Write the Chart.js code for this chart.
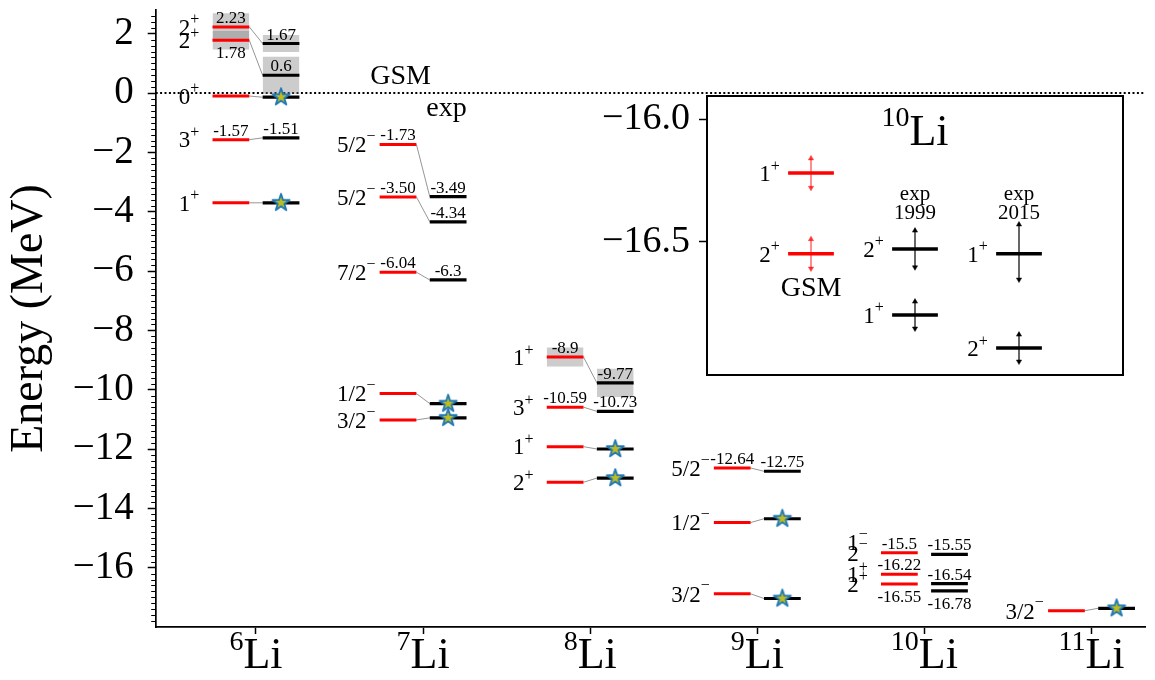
<!DOCTYPE html>
<html><head><meta charset="utf-8">
<script src="https://cdn.jsdelivr.net/npm/chart.js@4.4.1/dist/chart.umd.min.js"></script>
<style>
html,body{margin:0;padding:0;background:#fff;}
#wrap{position:relative;width:1155px;height:680px;overflow:hidden;}
#main{position:absolute;left:0;top:0;}
#inset{position:absolute;left:580px;top:88px;}
</style></head><body>
<div id="wrap"><canvas id="main" width="1155" height="680"></canvas><canvas id="inset" width="560" height="300"></canvas></div>
<script>
const FONT = '"Liberation Serif", "Times New Roman", serif';

// ---------- data ----------
const nuclei = ['6','7','8','9','10','11'];
const nucleusSymbol = 'Li';
const yTickValues = [2,0,-2,-4,-6,-8,-10,-12,-14,-16];
const yTickLabels = ['2','0','\u22122','\u22124','\u22126','\u22128','\u221210','\u221212','\u221214','\u221216'];

const levelNucleus = [0,0,0,0,0, 1,1,1,1,1, 2,2,2,2, 3,3,3, 4,4,4, 5];
const spinLabel    = ['2+','2+','0+','3+','1+', '5/2\u2212','5/2\u2212','7/2\u2212','1/2\u2212','3/2\u2212', '1+','3+','1+','2+', '5/2\u2212','1/2\u2212','3/2\u2212', '2\u2212','1+','2+', '3/2\u2212'];
const gsmEnergy    = [2.23,1.78,-0.10,-1.57,-3.70, -1.73,-3.50,-6.04,-10.13,-11.02, -8.9,-10.59,-11.92,-13.12, -12.64,-14.48,-16.88, -15.5,-16.22,-16.55, -17.45];
const gsmHalfWidth = [0.46,0.31,0,0,0, 0,0,0,0,0, 0.32,0,0,0, 0,0,0, 0,0,0, 0];
const gsmValueText = ['2.23','1.78','','-1.57','', '-1.73','-3.50','-6.04','','', '-8.9','-10.59','','', '-12.64','','', '-15.5','-16.22','-16.55', ''];
const gsmValueBelow= [0,1,0,0,0, 0,0,0,0,0, 0,0,0,0, 0,0,0, 0,0,1, 0];
const expEnergy    = [1.67,0.6,-0.14,-1.51,-3.70, -3.49,-4.34,-6.3,-10.47,-10.95, -9.77,-10.73,-12.0,-12.98, -12.75,-14.35,-17.04, -15.55,-16.54,-16.78, -17.37];
const expHalfWidth = [0.29,0.62,0,0,0, 0,0,0,0,0, 0.48,0,0,0, 0,0,0, 0,0,0, 0];
const expValueText = ['1.67','0.6','','-1.51','', '-3.49','-4.34','-6.3','','', '-9.77','-10.73','','', '-12.75','','', '-15.55','-16.54','-16.78', ''];
const expValueBelow= [0,0,0,0,0, 0,0,0,0,0, 0,0,0,0, 0,0,0, 0,0,1, 0];
const expStar      = [0,0,1,0,1, 0,0,0,1,1, 0,0,1,1, 0,1,1, 0,0,0, 1];
const linked       = [1,1,1,1,1, 1,1,1,1,1, 1,1,1,1, 1,1,1, 0,0,0, 1];
const extraSpinNucleus = [4];
const extraSpinEnergy  = [-15.13];
const extraSpinText    = ['1\u2212'];
const methodText = ['GSM','exp'];
const methodX    = [0.865, 1.14];
const methodY    = [0.56, -0.51];

// inset (10Li)
const insetGroupX     = [1,2,3];
const insetGroupLine1 = ['','exp','exp'];
const insetGroupLine2 = ['','1999','2015'];
const insetLevelGroup = [0,0,1,1,2,2];
const insetEnergy     = [-16.22,-16.55,-16.53,-16.80,-16.55,-16.935];
const insetErrUp      = [0.06,0.06,0.075,0.055,0.12,0.055];
const insetErrDown    = [0.06,0.06,0.075,0.055,0.105,0.055];
const insetSpin       = ['1+','2+','2+','1+','1+','2+'];
const insetYTickValues = [-16.5,-16.0];
const insetYTickLabels = ['\u221216.5','\u221216.0'];
const insetTitleSup = '10', insetTitleMain = 'Li';

// ---------- geometry (styles) ----------
const XMIN=-0.6, XMAX=5.32, YMIN=-18, YMAX=2.8;
const RED_L=-0.26, RED_R=-0.04, EXP_L=0.04, EXP_R=0.26, STAR_DX=0.15, SPIN_DX=-0.40;

function makeStar(){
  const s=24, c=document.createElement('canvas'); c.width=s; c.height=s;
  const g=c.getContext('2d'); const R=9, r=R*0.382;
  g.beginPath();
  for(let k=0;k<10;k++){const a=-Math.PI/2+k*Math.PI/5, rad=k%2?r:R; g.lineTo(s/2+rad*Math.cos(a), s/2+rad*Math.sin(a));}
  g.closePath(); g.fillStyle='#bcbd22'; g.fill(); g.lineWidth=1.8; g.strokeStyle='#1f77b4'; g.lineJoin='round'; g.stroke();
  return c;
}
const starImg = makeStar();

function drawSpin(ctx, text, cx, cy, bs, ss){
  const base=text.slice(0,-1), sup=text.slice(-1);
  ctx.font=`${bs}px ${FONT}`; const wb=ctx.measureText(base).width;
  ctx.font=`${ss}px ${FONT}`; const ws=ctx.measureText(sup).width;
  const x0=cx-(wb+ws)/2;
  ctx.textAlign='left'; ctx.textBaseline='alphabetic';
  ctx.font=`${bs}px ${FONT}`; ctx.fillText(base,x0,cy+0.34*bs);
  ctx.font=`${ss}px ${FONT}`;
  const sc=cy-0.32*bs;
  ctx.fillText(sup,x0+wb,sc+(sup==='+'?0.3:0.25)*ss);
}
function drawIsotope(ctx, sup, main, cx, baseline, ms, ss){
  ctx.font=`${ss}px ${FONT}`; const ws=ctx.measureText(sup).width;
  ctx.font=`${ms}px ${FONT}`; const wm=ctx.measureText(main).width;
  const x0=cx-(ws+wm)/2;
  ctx.textAlign='left'; ctx.textBaseline='alphabetic';
  ctx.font=`${ss}px ${FONT}`; ctx.fillText(sup,x0,baseline-0.42*ms);
  ctx.font=`${ms}px ${FONT}`; ctx.fillText(main,x0+ws,baseline);
}
function noPad(s){ s.paddingTop=0; s.paddingBottom=0; s.paddingLeft=0; s.paddingRight=0; }

// ---------- main chart ----------
const ds=[];
const starPts=[];
levelNucleus.forEach((n,k)=>{ if(expStar[k]) starPts.push({x:n+STAR_DX,y:expEnergy[k]}); });
ds.push({data:starPts, showLine:false, pointStyle:starImg, pointRadius:9, order:0});
levelNucleus.forEach((n,k)=>{
  const g=gsmEnergy[k], e=expEnergy[k];
  ds.push({data:[{x:n+RED_L,y:g},{x:n+RED_R,y:g}], borderColor:'#ff0000', borderWidth:3, borderCapStyle:'butt', pointRadius:0, order:1});
  ds.push({data:[{x:n+EXP_L,y:e},{x:n+EXP_R,y:e}], borderColor:'#000000', borderWidth:3.2, borderCapStyle:'butt', pointRadius:0, order:1});
  if(linked[k]) ds.push({data:[{x:n+RED_R,y:g},{x:n+EXP_L,y:e}], borderColor:'#8a8a8a', borderWidth:0.9, pointRadius:0, order:2});
  if(gsmHalfWidth[k]) ds.push({data:[{x:n+RED_L,y:g+gsmHalfWidth[k]},{x:n+RED_R,y:g+gsmHalfWidth[k]}], fill:{value:g-gsmHalfWidth[k]}, backgroundColor:'rgba(128,128,128,0.4)', borderColor:'rgba(0,0,0,0)', borderWidth:0, pointRadius:0, order:3});
  if(expHalfWidth[k]) ds.push({data:[{x:n+EXP_L,y:e+expHalfWidth[k]},{x:n+EXP_R,y:e+expHalfWidth[k]}], fill:{value:e-expHalfWidth[k]}, backgroundColor:'rgba(128,128,128,0.4)', borderColor:'rgba(0,0,0,0)', borderWidth:0, pointRadius:0, order:3});
});
ds.push({data:[{x:XMIN,y:0},{x:XMAX,y:0}], borderColor:'#000', borderWidth:2, borderDash:[2,2.4], borderCapStyle:'butt', pointRadius:0, order:4});

const mainText={
  id:'mainText',
  afterDatasetsDraw(chart){
    const {ctx}=chart, X=chart.scales.x, Y=chart.scales.y;
    ctx.save(); ctx.fillStyle='#000';
    levelNucleus.forEach((n,k)=>{
      const gy=Y.getPixelForValue(gsmEnergy[k]), ey=Y.getPixelForValue(expEnergy[k]);
      drawSpin(ctx, spinLabel[k], X.getPixelForValue(n+SPIN_DX), gy, 23, 16);
      ctx.font=`17px ${FONT}`; ctx.textAlign='center';
      if(gsmValueText[k]){
        const cx=X.getPixelForValue(n+(RED_L+RED_R)/2);
        if(gsmValueBelow[k]){ctx.textBaseline='top'; ctx.fillText(gsmValueText[k],cx,gy+5);} else {ctx.textBaseline='alphabetic'; ctx.fillText(gsmValueText[k],cx,gy-4);}
      }
      if(expValueText[k]){
        const cx=X.getPixelForValue(n+(EXP_L+EXP_R)/2);
        if(expValueBelow[k]){ctx.textBaseline='top'; ctx.fillText(expValueText[k],cx,ey+5);} else {ctx.textBaseline='alphabetic'; ctx.fillText(expValueText[k],cx,ey-4);}
      }
    });
    extraSpinNucleus.forEach((n,k)=>drawSpin(ctx, extraSpinText[k], X.getPixelForValue(n+SPIN_DX), Y.getPixelForValue(extraSpinEnergy[k]), 23, 16));
    ctx.font=`28px ${FONT}`; ctx.textAlign='center'; ctx.textBaseline='middle';
    methodText.forEach((t,k)=>ctx.fillText(t, X.getPixelForValue(methodX[k]), Y.getPixelForValue(methodY[k])));
    ctx.restore();
  },
  afterDraw(chart){
    const {ctx,chartArea}=chart, X=chart.scales.x, Y=chart.scales.y;
    ctx.save(); ctx.fillStyle='#000'; ctx.strokeStyle='#000'; ctx.lineWidth=1;
    for(let k=Math.ceil(YMIN/0.2);k<=Math.floor(YMAX/0.2);k++){
      if(k%10===0) continue;
      const py=Math.round(Y.getPixelForValue(k*0.2))+0.5;
      ctx.beginPath(); ctx.moveTo(chartArea.left-4.5,py); ctx.lineTo(chartArea.left,py); ctx.stroke();
    }
    nuclei.forEach((s,i)=>drawIsotope(ctx, s, nucleusSymbol, X.getPixelForValue(i), chartArea.bottom+41, 44, 28));
    ctx.translate(chartArea.left-126,(chartArea.top+chartArea.bottom)/2);
    ctx.rotate(-Math.PI/2);
    ctx.font=`46px ${FONT}`; ctx.textAlign='center'; ctx.textBaseline='middle';
    ctx.fillText('Energy (MeV)',0,0);
    ctx.restore();
  }
};

new Chart(document.getElementById('main'),{
  type:'line',
  data:{datasets:ds},
  options:{
    responsive:false, animation:false, events:[],
    layout:{padding:{left:0,top:8,right:7,bottom:0}},
    plugins:{legend:{display:false},tooltip:{enabled:false}},
    scales:{
      x:{type:'linear',min:XMIN,max:XMAX,
        afterBuildTicks:s=>{s.ticks=nuclei.map((_,i)=>({value:i}));},
        ticks:{display:false},
        grid:{drawOnChartArea:false,drawTicks:true,tickLength:7,tickWidth:1.5,tickColor:'#000'},
        border:{display:true,color:'#000',width:1.7},
        afterFit:s=>{s.height=53; noPad(s);}},
      y:{type:'linear',min:YMIN,max:YMAX,
        afterBuildTicks:s=>{s.ticks=yTickValues.slice().reverse().map(v=>({value:v}));},
        ticks:{callback:v=>yTickLabels[yTickValues.indexOf(v)],font:{family:FONT,size:39},color:'#000',padding:14},
        grid:{drawOnChartArea:false,drawTicks:true,tickLength:8,tickWidth:1.5,tickColor:'#000'},
        border:{display:true,color:'#000',width:1.7},
        afterFit:s=>{s.width=155.7; noPad(s);}}
    }
  },
  plugins:[mainText]
});

// ---------- inset chart ----------
const ds2=[];
insetLevelGroup.forEach((g,k)=>{
  const col=g===0?'#ff0000':'#000000', ecol=g===0?'rgba(255,0,0,0.75)':'#000000';
  const gx=insetGroupX[g], E=insetEnergy[k];
  ds2.push({data:[{x:gx-0.22,y:E},{x:gx+0.22,y:E}], borderColor:col, borderWidth:3.5, borderCapStyle:'butt', pointRadius:0, order:1});
  ds2.push({data:[{x:gx,y:E-insetErrDown[k]},{x:gx,y:E+insetErrUp[k]}], borderColor:ecol, borderWidth:1.2, pointStyle:'triangle', pointRadius:3, pointRotation:[180,0], pointBackgroundColor:ecol, pointBorderColor:ecol, pointBorderWidth:0.5, order:2});
});
const insetText={
  id:'insetText',
  beforeDraw(chart){const {ctx,chartArea:a}=chart; ctx.save(); ctx.fillStyle='#fff'; ctx.fillRect(a.left,a.top,a.right-a.left,a.bottom-a.top); ctx.restore();},
  afterDraw(chart){
    const {ctx,chartArea:a}=chart, X=chart.scales.x, Y=chart.scales.y;
    ctx.save(); ctx.strokeStyle='#000'; ctx.lineWidth=2; ctx.strokeRect(a.left,a.top,a.right-a.left,a.bottom-a.top);
    ctx.fillStyle='#000';
    drawIsotope(ctx, insetTitleSup, insetTitleMain, X.getPixelForValue(2), Y.getPixelForValue(-16.105), 44, 28);
    insetLevelGroup.forEach((g,k)=>drawSpin(ctx, insetSpin[k], X.getPixelForValue(insetGroupX[g]-0.40), Y.getPixelForValue(insetEnergy[k]), 23, 16));
    ctx.textAlign='center'; ctx.textBaseline='middle';
    ctx.font=`28px ${FONT}`; ctx.fillText('GSM', X.getPixelForValue(1), Y.getPixelForValue(-16.693));
    ctx.font=`21px ${FONT}`;
    insetGroupX.forEach((gx,g)=>{
      if(insetGroupLine1[g]) ctx.fillText(insetGroupLine1[g], X.getPixelForValue(gx), Y.getPixelForValue(-16.309));
      if(insetGroupLine2[g]) ctx.fillText(insetGroupLine2[g], X.getPixelForValue(gx), Y.getPixelForValue(-16.387));
    });
    ctx.restore();
  }
};
new Chart(document.getElementById('inset'),{
  type:'line',
  data:{datasets:ds2},
  options:{
    responsive:false, animation:false, events:[],
    layout:{padding:{left:0,top:8,right:17,bottom:13}},
    plugins:{legend:{display:false},tooltip:{enabled:false}},
    scales:{
      x:{type:'linear',min:0,max:4,display:false},
      y:{type:'linear',min:-17.045,max:-15.905,
        afterBuildTicks:s=>{s.ticks=insetYTickValues.map(v=>({value:v}));},
        ticks:{callback:v=>insetYTickLabels[insetYTickValues.indexOf(v)],font:{family:FONT,size:38},color:'#000',padding:9},
        grid:{drawOnChartArea:false,drawTicks:true,tickLength:8,tickWidth:1.5,tickColor:'#000'},
        border:{display:false},
        afterFit:s=>{s.width=127; noPad(s);}}
    }
  },
  plugins:[insetText]
});
</script>
</body></html>
